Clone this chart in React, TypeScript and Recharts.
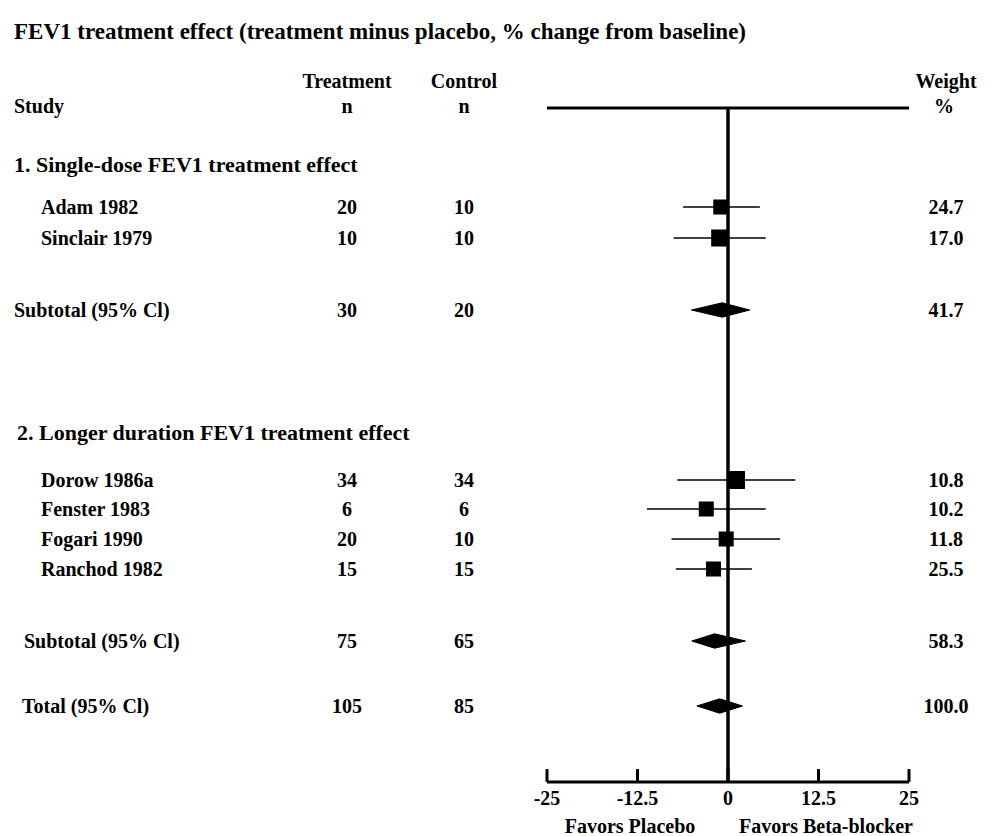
import React from 'react';
import {
  ComposedChart,
  Scatter,
  Area,
  XAxis,
  YAxis,
  ReferenceLine,
  ErrorBar,
  Customized,
} from 'recharts';

// ---------------- data ----------------
const sectionNames = ['1. Single-dose FEV1 treatment effect', '2. Longer duration FEV1 treatment effect'];
const sectionRows = [5.7, 32.5];

const studyNames = ['Adam 1982', 'Sinclair 1979', 'Dorow 1986a', 'Fenster 1983', 'Fogari 1990', 'Ranchod 1982'];
const studyRows = [9.9, 13.0, 37.2, 40.1, 43.1, 46.1];
const studyTreatN = [20, 10, 34, 6, 20, 15];
const studyControlN = [10, 10, 34, 6, 10, 15];
const studyEffect = [-1.0, -1.15, 1.1, -3.0, -0.25, -2.0];
const studyLow = [-6.2, -7.5, -7.0, -11.2, -7.8, -7.2];
const studyHigh = [4.4, 5.2, 9.3, 5.2, 7.2, 3.3];
const studyWeight = ['24.7', '17.0', '10.8', '10.2', '11.8', '25.5'];

const summaryNames = ['Subtotal (95% Cl)', 'Subtotal (95% Cl)', 'Total (95% Cl)'];
const summaryRows = [20.2, 53.3, 59.8];
const summaryTreatN = [30, 75, 105];
const summaryControlN = [20, 65, 85];
const summaryEffect = [-0.8, -1.85, -1.15];
const summaryLow = [-5.05, -5.0, -4.3];
const summaryHigh = [3.0, 2.4, 2.0];
const summaryWeight = ['41.7', '58.3', '100.0'];

const xTicks = [-25, -12.5, 0, 12.5, 25];
const xDomain: [number, number] = [-25, 25];
const rowDomain: [number, number] = [0, 67.4];

const titleText = 'FEV1 treatment effect (treatment minus placebo, % change from baseline)';
const favorsLeft = 'Favors Placebo';
const favorsRight = 'Favors Beta-blocker';

// ---------------- layout / style ----------------
const FONT = '"Liberation Serif", "Times New Roman", serif';
const W = 994;
const H = 836;
const MARGIN = { top: 108, right: 85, bottom: 0, left: 547 };
const AXIS_H = 54;
const COL_TREAT = 347;
const COL_CTRL = 464;
const COL_WEIGHT = 946;
const STUDY_INDENT = 41;
const SUMMARY_INDENT = [14, 24, 22];
const SECTION_INDENT = [14, 17];
const BOX_PX = [15, 17, 18, 15, 15, 15];
const DIAMOND_HALF = 0.72;
const ROW_BASE = 7;

type TxtProps = { x: number; y: number; size?: number; anchor?: 'start' | 'middle' | 'end'; children: React.ReactNode };
const Txt = ({ x, y, size = 20, anchor = 'start', children }: TxtProps) => (
  <text x={x} y={y} fontFamily={FONT} fontWeight="bold" fontSize={size} textAnchor={anchor} fill="#000">
    {children}
  </text>
);

const studyData = studyNames.map((name, i) => ({
  x: studyEffect[i],
  y: studyRows[i],
  err: [studyEffect[i] - studyLow[i], studyHigh[i] - studyEffect[i]],
  idx: i,
}));

const labelData = [
  ...sectionNames.map((name, i) => ({ x: 0, y: sectionRows[i], kind: 'section', name, indent: SECTION_INDENT[i] })),
  ...studyNames.map((name, i) => ({
    x: 0,
    y: studyRows[i],
    kind: 'row',
    name,
    indent: STUDY_INDENT,
    t: studyTreatN[i],
    c: studyControlN[i],
    w: studyWeight[i],
  })),
  ...summaryNames.map((name, i) => ({
    x: 0,
    y: summaryRows[i],
    kind: 'row',
    name,
    indent: SUMMARY_INDENT[i],
    t: summaryTreatN[i],
    c: summaryControlN[i],
    w: summaryWeight[i],
  })),
];

const diamondData = summaryNames.map((_, i) => [
  { x: summaryLow[i], band: [summaryRows[i], summaryRows[i]] },
  { x: summaryEffect[i], band: [summaryRows[i] - DIAMOND_HALF, summaryRows[i] + DIAMOND_HALF] },
  { x: summaryHigh[i], band: [summaryRows[i], summaryRows[i]] },
]);

const SquareShape = (props: any) => {
  const { cx, cy, payload } = props;
  const s = BOX_PX[payload.idx];
  return <rect x={cx - s / 2} y={cy - s / 2} width={s} height={s} fill="#000" />;
};

const LabelShape = (props: any) => {
  const { cy, payload } = props;
  if (payload.kind === 'section') {
    return (
      <g>
        <Txt x={payload.indent} y={cy + ROW_BASE} size={22}>
          {payload.name}
        </Txt>
      </g>
    );
  }
  return (
    <g>
      <Txt x={payload.indent} y={cy + ROW_BASE}>
        {payload.name}
      </Txt>
      <Txt x={COL_TREAT} y={cy + ROW_BASE} anchor="middle">
        {payload.t}
      </Txt>
      <Txt x={COL_CTRL} y={cy + ROW_BASE} anchor="middle">
        {payload.c}
      </Txt>
      <Txt x={COL_WEIGHT} y={cy + ROW_BASE} anchor="middle">
        {payload.w}
      </Txt>
    </g>
  );
};

const AxisTick = (props: any) => {
  const { x, y, payload } = props;
  return (
    <g>
      <line x1={x} x2={x} y1={y} y2={y - 13} stroke="#000" strokeWidth={3} />
      <Txt x={x} y={y + 23} anchor="middle">
        {String(payload.value)}
      </Txt>
    </g>
  );
};

const Headers = () => (
  <g>
    <Txt x={14} y={39} size={23}>
      {titleText}
    </Txt>
    <Txt x={COL_TREAT} y={88} anchor="middle">Treatment</Txt>
    <Txt x={COL_TREAT} y={113} anchor="middle">n</Txt>
    <Txt x={COL_CTRL} y={88} anchor="middle">Control</Txt>
    <Txt x={COL_CTRL} y={113} anchor="middle">n</Txt>
    <Txt x={14} y={113}>Study</Txt>
    <Txt x={COL_WEIGHT} y={88} anchor="middle">Weight</Txt>
    <Txt x={COL_WEIGHT - 2} y={113} anchor="middle">%</Txt>
    <Txt x={630} y={833} anchor="middle">{favorsLeft}</Txt>
    <Txt x={826} y={833} anchor="middle">{favorsRight}</Txt>
  </g>
);

export default function App() {
  return (
    <div style={{ position: 'absolute', left: 0, top: 0, width: W, height: H, background: '#fff' }}>
      <ComposedChart width={W} height={H} margin={MARGIN}>
        <XAxis
          type="number"
          dataKey="x"
          domain={xDomain}
          ticks={xTicks}
          interval={0}
          height={AXIS_H}
          axisLine={{ stroke: '#000', strokeWidth: 3 }}
          tickLine={false}
          tickSize={0}
          tickMargin={0}
          tick={<AxisTick />}
        />
        <YAxis type="number" dataKey="y" domain={rowDomain} reversed hide width={0} />
        <ReferenceLine y={rowDomain[0]} stroke="#000" strokeWidth={3} />
        <ReferenceLine x={0} stroke="#000" strokeWidth={3.5} />
        {diamondData.map((d, i) => (
          <Area
            key={'d' + i}
            data={d}
            dataKey="band"
            type="linear"
            stroke="#000"
            strokeWidth={1}
            fill="#000"
            fillOpacity={1}
            isAnimationActive={false}
            dot={false}
            activeDot={false}
          />
        ))}
        <Scatter data={studyData} shape={SquareShape} isAnimationActive={false}>
          <ErrorBar dataKey="err" direction="x" width={0} stroke="#000" strokeWidth={1.5} />
        </Scatter>
        <Scatter data={labelData} shape={LabelShape} isAnimationActive={false} />
        <Customized component={Headers} />
      </ComposedChart>
    </div>
  );
}
